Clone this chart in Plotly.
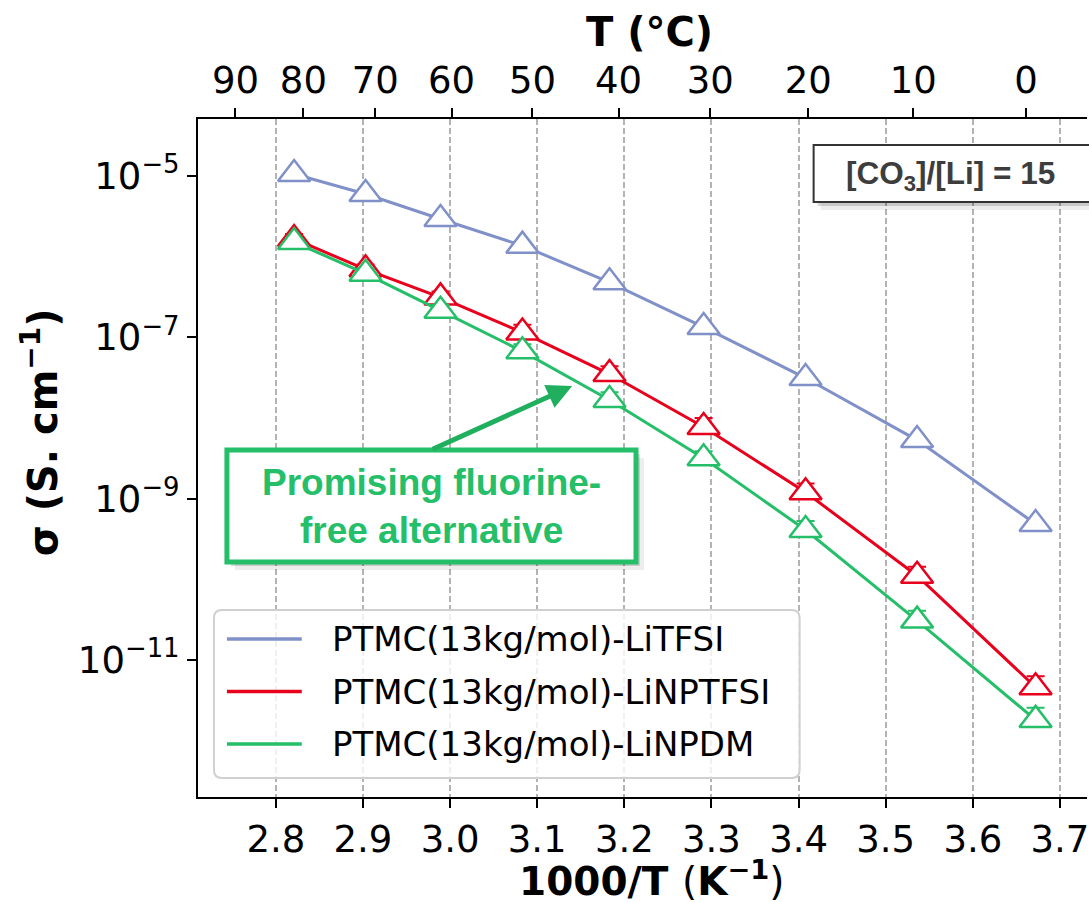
import plotly.graph_objects as go

# ---------------- data ----------------
inv_T = [2.821, 2.903, 2.989, 3.083, 3.183, 3.291, 3.408, 3.536, 3.672]
sigma_litfsi = [1.06e-5, 5.98e-6, 2.93e-6, 1.37e-6, 4.81e-7, 1.34e-7, 3.13e-8, 5.33e-9, 4.85e-10]
sigma_linptfsi = [1.66e-6, 6.97e-7, 3.13e-7, 1.15e-7, 3.51e-8, 7.75e-9, 1.20e-9, 1.11e-10, 4.6e-12]
sigma_linpdm = [1.52e-6, 6.15e-7, 2.14e-7, 6.71e-8, 1.67e-8, 3.17e-9, 4.09e-10, 3.08e-11, 1.81e-12]
# upper relative error (fraction of value)
relerr_linptfsi = [0.15, 0.15, 0.18, 0.25, 0.25, 0.29, 0.29, 0.29, 0.37]
relerr_linpdm = [0.12, 0.15, 0.18, 0.22, 0.25, 0.22, 0.29, 0.33, 0.41]
relerr_none = [0, 0, 0, 0, 0, 0, 0, 0, 0]

series_names = ["PTMC(13kg/mol)-LiTFSI", "PTMC(13kg/mol)-LiNPTFSI", "PTMC(13kg/mol)-LiNPDM"]
series_colors = ["#8090C8", "#E8001C", "#25BE69"]

x_ticks = [2.8, 2.9, 3.0, 3.1, 3.2, 3.3, 3.4, 3.5, 3.6, 3.7]
x_ticktext = ["2.8", "2.9", "3.0", "3.1", "3.2", "3.3", "3.4", "3.5", "3.6", "3.7"]
y_ticks = [1e-11, 1e-9, 1e-7, 1e-5]
y_ticktext = ["10<sup>\u221211</sup>", "10<sup>\u22129</sup>", "10<sup>\u22127</sup>", "10<sup>\u22125</sup>"]
top_T_celsius = [90, 80, 70, 60, 50, 40, 30, 20, 10, 0]

note_text = "[CO<sub>3</sub>]/[Li] = 15"
callout_text = "<b>Promising fluorine-<br>free alternative</b>"

# ---------------- layout geometry ----------------
W, H = 1089, 902
PL, PT, PR, PB = 198, 119, 1089, 797
X_RANGE = [2.7107, 3.7310]
Y_RANGE = [-12.698, -4.293]


def px(x):
    return (x - PL) / (PR - PL)


def py(y):
    return (PB - y) / (PB - PT)


FONT = "DejaVu Sans"
ARIAL = "Liberation Sans, Arial"

fig = go.Figure()

series = [
    (sigma_litfsi, relerr_none, False),
    (sigma_linptfsi, relerr_linptfsi, True),
    (sigma_linpdm, relerr_linpdm, True),
]
for (vals, rel, has_err), name, col in zip(series, series_names, series_colors):
    err_up = [v * e for v, e in zip(vals, rel)]
    fig.add_trace(go.Scatter(
        x=inv_T, y=vals, name=name, mode="lines+markers",
        line=dict(color=col, width=3),
        marker=dict(symbol="triangle-up", size=28, color="white",
                    line=dict(color=col, width=2.5)),
        error_y=dict(type="data", symmetric=False, array=err_up,
                     arrayminus=relerr_none, color=col, thickness=2,
                     width=9, visible=has_err),
        showlegend=False, hoverinfo="x+y",
    ))

# helper trace so the top axis is registered
fig.add_trace(go.Scatter(x=[inv_T[0]], y=[sigma_litfsi[0]], xaxis="x2",
                         mode="markers", marker=dict(opacity=0),
                         showlegend=False, hoverinfo="skip"))

top_pos = [1000.0 / (t + 273.15) for t in top_T_celsius]

fig.update_layout(
    width=W, height=H,
    margin=dict(l=PL, r=W - PR, t=PT, b=H - PB, pad=0),
    paper_bgcolor="white", plot_bgcolor="white",
    font=dict(family=FONT, color="black"),
    showlegend=False,
    xaxis=dict(
        range=X_RANGE, tickvals=x_ticks, ticktext=x_ticktext,
        ticks="outside", ticklen=9, tickwidth=2, tickcolor="black",
        showline=True, linewidth=2, linecolor="black", mirror=False,
        showgrid=True, gridcolor="#b3b3b3", gridwidth=1.5, griddash="6px,3px",
        zeroline=False, tickfont=dict(size=37, family=FONT),
        ticklabeloverflow="allow",
    ),
    xaxis2=dict(
        overlaying="x", side="top", anchor="y", range=X_RANGE,
        tickvals=top_pos, ticktext=[str(t) for t in top_T_celsius],
        ticks="outside", ticklen=9, tickwidth=2, tickcolor="black",
        showline=True, linewidth=2, linecolor="black",
        showgrid=False, zeroline=False, tickfont=dict(size=37, family=FONT),
        ticklabeloverflow="allow",
    ),
    yaxis=dict(
        type="log", range=Y_RANGE, tickvals=y_ticks, ticktext=y_ticktext,
        ticks="outside", ticklen=9, tickwidth=2, tickcolor="black",
        showline=True, linewidth=2, linecolor="black",
        showgrid=False, zeroline=False, tickfont=dict(size=37, family=FONT),
    ),
)

shapes = []
annotations = []


def rect(x0, y0, x1, y1, **kw):
    d = dict(type="rect", xref="paper", yref="paper",
             x0=px(x0), x1=px(x1), y0=py(y1), y1=py(y0), layer="above")
    d.update(kw)
    shapes.append(d)


# ---- [CO3]/[Li] box ----
rect(815 + 7, 145 + 8, 1110, 202 + 8, fillcolor="rgba(0,0,0,0.07)", line=dict(width=0))
rect(815 + 4, 145 + 4, 1110, 202 + 4, fillcolor="rgba(0,0,0,0.15)", line=dict(width=0))
rect(815, 145, 1110, 202, fillcolor="white", line=dict(color="#333333", width=2))
annotations.append(dict(xref="paper", yref="paper", x=px(952), y=py(175),
                        text="<b>" + note_text + "</b>", showarrow=False,
                        xanchor="center", yanchor="middle",
                        font=dict(family=ARIAL, size=31.5, color="#3d3d3d")))

# ---- green callout box ----
green = series_colors[2]
rect(227 + 8, 450 + 8, 637 + 8, 562 + 8, fillcolor="rgba(0,0,0,0.07)", line=dict(width=0))
rect(227 + 4, 450 + 4, 637 + 4, 562 + 4, fillcolor="rgba(0,0,0,0.14)", line=dict(width=0))
rect(227, 450, 637, 562, fillcolor="white", line=dict(color=green, width=5))
annotations.append(dict(xref="paper", yref="paper", x=px(432), y=py(506),
                        text=callout_text, showarrow=False,
                        xanchor="center", yanchor="middle", align="center",
                        font=dict(family=ARIAL, size=37, color=green)))
# arrow
annotations.append(dict(xref="paper", yref="paper", x=px(573), y=py(386),
                        text="", showarrow=True, axref="pixel", ayref="pixel",
                        ax=-141, ay=64, arrowhead=2, arrowsize=1.0,
                        arrowwidth=5, arrowcolor="#1FAF5E", standoff=0))

# ---- legend (manual) ----
lx0, ly0, lx1, ly1 = 214, 610, 801, 778
rx, ry = 8 / (PR - PL), 8 / (PB - PT)
X0, X1, Y0, Y1 = px(lx0), px(lx1), py(ly1), py(ly0)
path = (f"M{X0 + rx},{Y1} L{X1 - rx},{Y1} Q{X1},{Y1} {X1},{Y1 - ry} "
        f"L{X1},{Y0 + ry} Q{X1},{Y0} {X1 - rx},{Y0} L{X0 + rx},{Y0} "
        f"Q{X0},{Y0} {X0},{Y0 + ry} L{X0},{Y1 - ry} Q{X0},{Y1} {X0 + rx},{Y1} Z")
shapes.append(dict(type="path", xref="paper", yref="paper", path=path,
                   fillcolor="rgba(255,255,255,0.8)",
                   line=dict(color="#d0d0d0", width=2), layer="above"))
row_y = [639, 691.5, 744]
for yy, name, col in zip(row_y, series_names, series_colors):
    shapes.append(dict(type="line", xref="paper", yref="paper",
                       x0=px(227), x1=px(302), y0=py(yy), y1=py(yy),
                       line=dict(color=col, width=3.5), layer="above"))
    annotations.append(dict(xref="paper", yref="paper", x=px(330), y=py(yy),
                            text=name, showarrow=False, xanchor="left",
                            yanchor="middle",
                            font=dict(family=FONT, size=34, color="black")))

# ---- axis titles ----
annotations.append(dict(xref="paper", yref="paper", x=px(653), y=py(879),
                        text="<b>1000/T </b>(<b>K<sup>\u22121</sup></b>)",
                        showarrow=False, xanchor="center", yanchor="middle",
                        font=dict(family=FONT, size=39, color="black")))
annotations.append(dict(xref="paper", yref="paper", x=px(40), y=py(432),
                        text="<b>\u03c3 (S. cm<sup>\u22121</sup>)</b>", textangle=-90,
                        showarrow=False, xanchor="center", yanchor="middle",
                        font=dict(family=FONT, size=40, color="black")))
annotations.append(dict(xref="paper", yref="paper", x=px(651), y=py(32),
                        text="<b>T (\u00b0C)</b>",
                        showarrow=False, xanchor="center", yanchor="middle",
                        font=dict(family=FONT, size=40, color="black")))

fig.update_layout(shapes=shapes, annotations=annotations)

fig.write_html("out.html", config={"displayModeBar": False},
               post_script="document.body.style.margin='0';")
